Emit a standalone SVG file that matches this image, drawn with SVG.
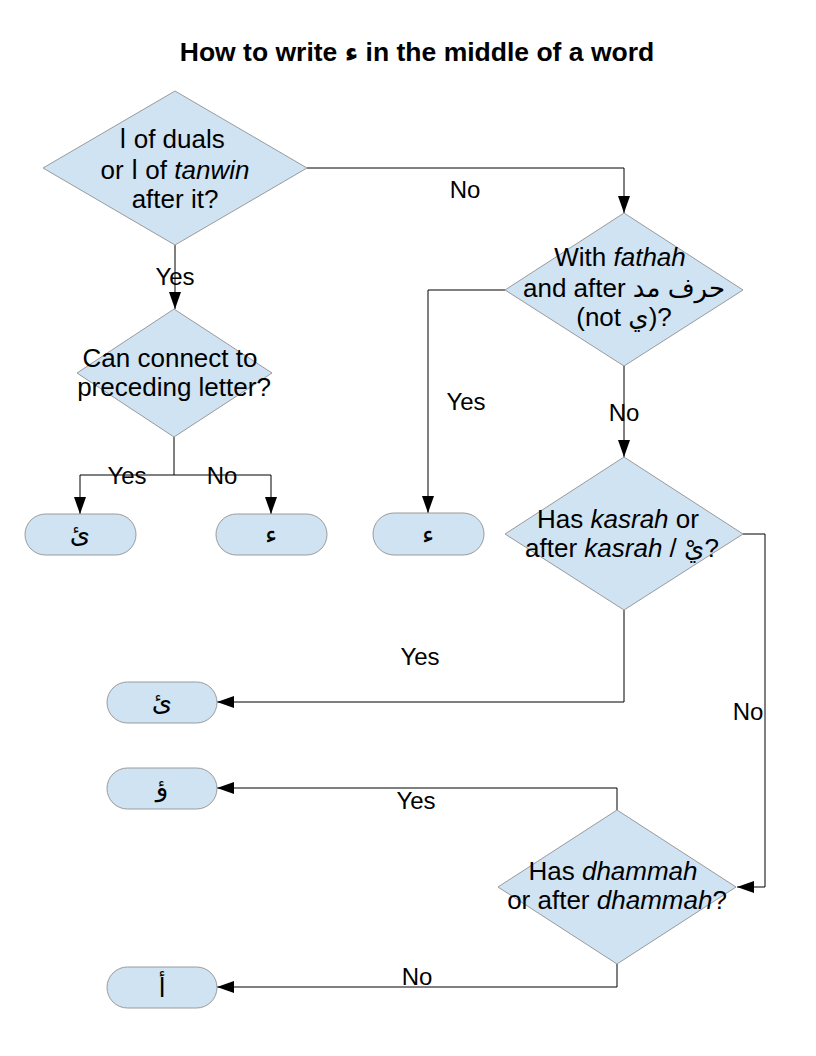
<svg xmlns="http://www.w3.org/2000/svg" width="816" height="1056" viewBox="0 0 816 1056">
<defs>
<style>
.shape{fill:#cfe3f3;stroke:#9a9a9a;stroke-width:1}
.t{font-family:"Liberation Sans","DejaVu Sans",sans-serif;font-size:26px;fill:#000;text-anchor:middle}
.l{font-family:"Liberation Sans","DejaVu Sans",sans-serif;font-size:24px;fill:#000;text-anchor:middle}
.ar{font-family:"DejaVu Sans","Liberation Sans",sans-serif;font-size:26px;fill:#000;text-anchor:middle}
.title{font-family:"Liberation Sans","DejaVu Sans",sans-serif;font-size:26.5px;font-weight:bold;fill:#000;text-anchor:middle}
.c{fill:none;stroke:#000;stroke-width:1}
.i{font-style:italic}
</style>
<marker id="arr" markerUnits="userSpaceOnUse" markerWidth="17" markerHeight="12" refX="17" refY="6" orient="auto">
<path d="M0,0 L17,6 L0,12 z" fill="#000"/>
</marker>
</defs>
<rect width="816" height="1056" fill="#fff"/>
<text class="title" x="417" y="61">How to write ء in the middle of a word</text>

<g id="connectors">
<path class="c" d="M307,168 H624 V213" marker-end="url(#arr)"/>
<path class="c" d="M175,245 V309" marker-end="url(#arr)"/>
<path class="c" d="M174,437 V475 H80 V514" marker-end="url(#arr)"/>
<path class="c" d="M174,475 H271 V514" marker-end="url(#arr)"/>
<path class="c" d="M505,290 H428 V513" marker-end="url(#arr)"/>
<path class="c" d="M624,366 V457" marker-end="url(#arr)"/>
<path class="c" d="M743,534 H765 V887 H737" marker-end="url(#arr)"/>
<path class="c" d="M624,610 V702 H217" marker-end="url(#arr)"/>
<path class="c" d="M617,810 V788 H217" marker-end="url(#arr)"/>
<path class="c" d="M617,964 V987 H217" marker-end="url(#arr)"/>
<text class="l" x="465" y="198">No</text>
<text class="l" x="175" y="285">Yes</text>
<text class="l" x="127" y="484">Yes</text>
<text class="l" x="222" y="484">No</text>
<text class="l" x="466" y="410">Yes</text>
<text class="l" x="624" y="421">No</text>
<text class="l" x="748" y="720">No</text>
<text class="l" x="420" y="665">Yes</text>
<text class="l" x="416" y="809">Yes</text>
<text class="l" x="417" y="985">No</text>
</g>

<g id="d1">
<polygon class="shape" points="175,91 307,168 175,245 43,168"/>
<text class="t" x="172" y="148">ا of duals</text>
<text class="t" x="175" y="179">or ا of <tspan class="i">tanwin</tspan></text>
<text class="t" x="175" y="208">after it?</text>
</g>

<g id="d2">
<polygon class="shape" points="624,213 743,290 624,366 505,290"/>
<text class="t" x="620" y="266">With <tspan class="i">fathah</tspan></text>
<text class="t" x="624" y="297">and after حرف مد</text>
<text class="t" x="624" y="326">(not ي)?</text>
</g>

<g id="d3">
<polygon class="shape" points="174,309 272,373 174,437 77,373"/>
<text class="t" x="170" y="367">Can connect to</text>
<text class="t" x="174" y="396">preceding letter?</text>
</g>

<g id="d4">
<polygon class="shape" points="624,457 743,534 624,610 505,534"/>
<text class="t" x="618" y="528">Has <tspan class="i">kasrah</tspan> or</text>
<text class="t" x="622" y="557">after <tspan class="i">kasrah</tspan> / يْ?</text>
</g>

<g id="d5">
<polygon class="shape" points="617,810 736,887 617,964 498,887"/>
<text class="t" x="613" y="880">Has <tspan class="i">dhammah</tspan></text>
<text class="t" x="617" y="909">or after <tspan class="i">dhammah</tspan>?</text>
</g>

<g id="t1"><rect class="shape" x="25" y="514" width="111" height="41" rx="20.5"/><text class="ar" x="80" y="543">ئ</text></g>
<g id="t2"><rect class="shape" x="216" y="514" width="111" height="41" rx="20.5"/><text class="ar" x="271" y="543">ء</text></g>
<g id="t3"><rect class="shape" x="373" y="513" width="111" height="42" rx="21"/><text class="ar" x="428" y="543">ء</text></g>
<g id="t4"><rect class="shape" x="107" y="682" width="110" height="41" rx="20.5"/><text class="ar" x="162" y="711">ئ</text></g>
<g id="t5"><rect class="shape" x="107" y="768" width="110" height="41" rx="20.5"/><text class="ar" x="162" y="796">ؤ</text></g>
<g id="t6"><rect class="shape" x="107" y="967" width="110" height="41" rx="20.5"/><text class="ar" x="162" y="997">أ</text></g>
</svg>
